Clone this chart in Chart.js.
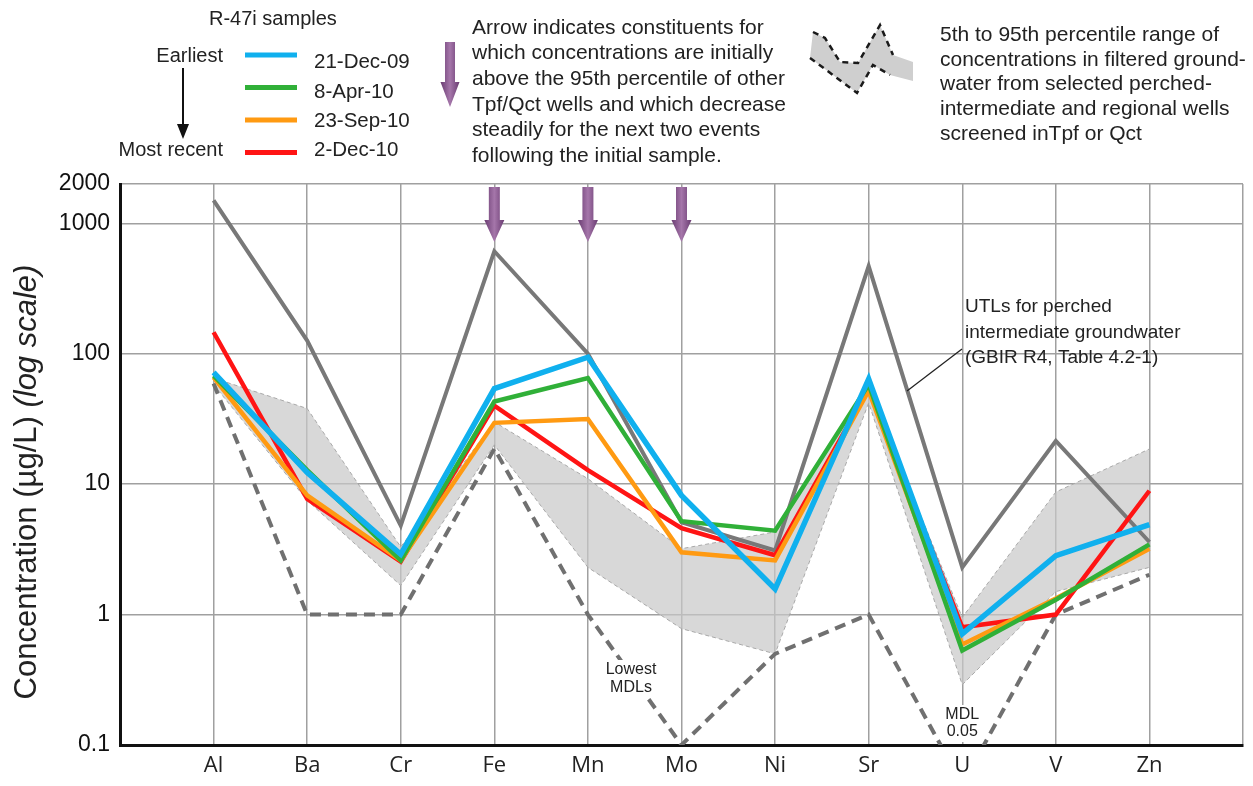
<!DOCTYPE html>
<html>
<head>
<meta charset="utf-8">
<title>R-47i metals</title>
<script src="https://cdn.jsdelivr.net/npm/chart.js@4.4.1/dist/chart.umd.min.js"></script>
<style>
  html, body { margin: 0; padding: 0; background: #fff; }
</style>
</head>
<body>
<canvas id="chart" width="1253" height="786"></canvas>
<script>
// constituents along the x axis
const elements = ['Al', 'Ba', 'Cr', 'Fe', 'Mn', 'Mo', 'Ni', 'Sr', 'U', 'V', 'Zn'];

// R-47i sampling events (ug/L)
const dec09 = [72, 12.3, 2.9, 54, 94, 8.2, 1.57, 64, 0.71, 2.83, 4.9];
const apr10 = [68, 12.8, 2.6, 43, 65, 5.2, 4.4, 58, 0.53, 1.3, 3.45];
const sep10 = [66, 8.2, 2.6, 29.5, 31.6, 3.0, 2.6, 52, 0.59, 1.33, 3.2];
const dec10 = [146, 7.7, 2.55, 40, 12.8, 4.6, 2.85, 54, 0.8, 1.0, 8.9];

// UTLs for perched intermediate groundwater
const utl = [1500, 126, 4.8, 610, 100, 5.1, 3.1, 470, 2.3, 21.5, 3.6];
// lowest MDLs (U is 0.05, under the axis)
const lowestMdl = [59, 1, 1, 18.7, 1, 0.1, 0.5, 1, 0.05, 1, 2.02];
// 5th - 95th percentile band, Tpf/Qct wells
const pct5 = [58, 7.5, 1.67, 20, 2.3, 0.78, 0.5, 42, 0.29, 1.5, 2.3];
const pct95 = [65, 38, 3.3, 30, 11, 3.2, 4.3, 55, 0.95, 8.7, 18.6];

const yTicks = [0.1, 1, 10, 100, 1000, 2000];
const arrowAt = ['Fe', 'Mn', 'Mo'];

const sampleColors = ['#10b0ee', '#30b038', '#ff9a12', '#ff1414'];
const sampleNames = ['21-Dec-09', '8-Apr-10', '23-Sep-10', '2-Dec-10'];

const SANS = '"Liberation Sans", Arial, sans-serif';
const gridGray = '#a0a0a0';

function pts(arr) {
    return arr.map((v, i) => ({x: i + 1, y: v}));
}

function line(label, arr, color, width, extra) {
    return Object.assign({
        label: label,
        data: pts(arr),
        borderColor: color,
        borderWidth: width,
        pointRadius: 0,
        tension: 0,
        fill: false
    }, extra || {});
}

function purpleArrow(ctx, cx, top, headTop, tip, shaftHalf, headHalf) {
    const g = ctx.createLinearGradient(cx - headHalf, 0, cx + headHalf, 0);
    g.addColorStop(0, '#6a3c72');
    g.addColorStop(0.5, '#a576aa');
    g.addColorStop(1, '#6a3c72');
    ctx.fillStyle = g;
    ctx.beginPath();
    ctx.moveTo(cx - shaftHalf, top);
    ctx.lineTo(cx + shaftHalf, top);
    ctx.lineTo(cx + shaftHalf, headTop);
    ctx.lineTo(cx + headHalf, headTop);
    ctx.lineTo(cx, tip);
    ctx.lineTo(cx - headHalf, headTop);
    ctx.lineTo(cx - shaftHalf, headTop);
    ctx.closePath();
    ctx.fill();
}

function boxedText(ctx, lines, cx, y0, step, size) {
    ctx.font = size + 'px ' + SANS;
    let w = 0;
    lines.forEach(t => { w = Math.max(w, ctx.measureText(t).width); });
    ctx.fillStyle = '#fff';
    ctx.fillRect(cx - w / 2 - 3, y0 - size / 2 - 2, w + 6, step * (lines.length - 1) + size + 4);
    ctx.fillStyle = '#222';
    ctx.textAlign = 'center';
    ctx.textBaseline = 'middle';
    lines.forEach((t, i) => ctx.fillText(t, cx, y0 + i * step));
}

const decor = {
    id: 'decor',
    afterDatasetsDraw(chart) {
        const ctx = chart.ctx;
        const xs = chart.scales.x;
        const area = chart.chartArea;
        ctx.save();

        // decreasing-trend arrows
        arrowAt.forEach(name => {
            const cx = xs.getPixelForValue(elements.indexOf(name) + 1);
            purpleArrow(ctx, cx, area.top + 3, area.top + 36, area.top + 58, 5.5, 10);
        });

        // UTL callout
        ctx.strokeStyle = '#222';
        ctx.lineWidth = 1.3;
        ctx.beginPath();
        ctx.moveTo(907, 391);
        ctx.lineTo(962, 349);
        ctx.stroke();
        ctx.fillStyle = '#222';
        ctx.font = '19px ' + SANS;
        ctx.textAlign = 'left';
        ctx.textBaseline = 'middle';
        ['UTLs for perched', 'intermediate groundwater', '(GBIR R4, Table 4.2-1)']
            .forEach((t, i) => ctx.fillText(t, 965, 307 + i * 25.5));

        boxedText(ctx, ['Lowest', 'MDLs'], 631, 670, 18, 16);
        boxedText(ctx, ['MDL', '0.05'], xs.getPixelForValue(9), 715, 17, 16);
        ctx.restore();
    },
    afterDraw(chart) {
        const ctx = chart.ctx;
        ctx.save();
        ctx.fillStyle = '#222';
        ctx.textBaseline = 'middle';

        // sample legend
        ctx.font = '20px ' + SANS;
        ctx.textAlign = 'left';
        ctx.fillText('R-47i samples', 209, 19);
        ctx.textAlign = 'right';
        ctx.fillText('Earliest', 223, 56);
        ctx.fillText('Most recent', 223, 150);
        ctx.strokeStyle = '#111';
        ctx.lineWidth = 2;
        ctx.beginPath();
        ctx.moveTo(183, 68);
        ctx.lineTo(183, 128);
        ctx.stroke();
        ctx.fillStyle = '#111';
        ctx.beginPath();
        ctx.moveTo(177, 124);
        ctx.lineTo(189, 124);
        ctx.lineTo(183, 139);
        ctx.closePath();
        ctx.fill();

        const lineY = [55, 87.5, 120, 152.5];
        const textY = [62, 92, 121, 150];
        ctx.lineWidth = 5;
        ctx.textAlign = 'left';
        ctx.font = '20.5px ' + SANS;
        sampleNames.forEach((name, i) => {
            ctx.strokeStyle = sampleColors[i];
            ctx.beginPath();
            ctx.moveTo(245, lineY[i]);
            ctx.lineTo(297, lineY[i]);
            ctx.stroke();
            ctx.fillStyle = '#222';
            ctx.fillText(name, 314, textY[i]);
        });

        // arrow note
        purpleArrow(ctx, 450, 42, 82, 107, 5, 9.5);
        ctx.fillStyle = '#222';
        ctx.font = '21px ' + SANS;
        ['Arrow indicates constituents for',
         'which concentrations are initially',
         'above the 95th percentile of other',
         'Tpf/Qct wells and which decrease',
         'steadily for the next two events',
         'following the initial sample.']
            .forEach((t, i) => ctx.fillText(t, 472, 28 + i * 25.6));

        // percentile band swatch
        const up = [[813, 32], [825, 38], [840, 62], [858, 63], [880, 25], [893, 55], [913, 62]];
        const lo = [[810, 58], [833, 75], [857, 93], [873, 65], [890, 75], [913, 81]];
        ctx.fillStyle = '#cfcfcf';
        ctx.beginPath();
        up.forEach((p, i) => i ? ctx.lineTo(p[0], p[1]) : ctx.moveTo(p[0], p[1]));
        lo.slice().reverse().forEach(p => ctx.lineTo(p[0], p[1]));
        ctx.closePath();
        ctx.fill();
        ctx.strokeStyle = '#1a1a1a';
        ctx.lineWidth = 2.5;
        ctx.setLineDash([6, 5]);
        [up.slice(0, 6), lo.slice(0, 5)].forEach(path => {
            ctx.beginPath();
            path.forEach((p, i) => i ? ctx.lineTo(p[0], p[1]) : ctx.moveTo(p[0], p[1]));
            ctx.stroke();
        });
        ctx.setLineDash([]);
        ctx.fillStyle = '#222';
        ctx.font = '21px ' + SANS;
        ['5th to 95th percentile range of',
         'concentrations in filtered ground-',
         'water from selected perched-',
         'intermediate and regional wells',
         'screened inTpf or Qct']
            .forEach((t, i) => ctx.fillText(t, 940, 35 + i * 24.8));

        // y axis title, second half in italics
        const a = 'Concentration (\u00b5g/L) ';
        const b = '(log scale)';
        const size = 31;
        ctx.font = size + 'px ' + SANS;
        const wa = ctx.measureText(a).width;
        ctx.font = 'italic ' + size + 'px ' + SANS;
        const wb = ctx.measureText(b).width;
        ctx.translate(27, 482);
        ctx.rotate(-Math.PI / 2);
        ctx.textAlign = 'left';
        ctx.fillStyle = '#222';
        ctx.font = size + 'px ' + SANS;
        ctx.fillText(a, -(wa + wb) / 2, 0);
        ctx.font = 'italic ' + size + 'px ' + SANS;
        ctx.fillText(b, -(wa + wb) / 2 + wa, 0);
        ctx.restore();
    }
};

new Chart(document.getElementById('chart'), {
    type: 'line',
    data: {
        datasets: [
            line(sampleNames[0], dec09, sampleColors[0], 5.5),
            line(sampleNames[1], apr10, sampleColors[1], 4.5),
            line(sampleNames[2], sep10, sampleColors[2], 4.5),
            line(sampleNames[3], dec10, sampleColors[3], 4.5),
            line('UTL', utl, '#787878', 4),
            line('Lowest MDLs', lowestMdl, '#707070', 4, {borderDash: [11, 7], clip: 0}),
            line('5th percentile', pct5, '#a9a9a9', 1, {borderDash: [4, 3]}),
            line('95th percentile', pct95, '#a9a9a9', 1, {
                borderDash: [4, 3],
                fill: '-1',
                backgroundColor: 'rgba(200, 200, 200, 0.7)'
            })
        ]
    },
    options: {
        responsive: false,
        animation: false,
        layout: {padding: {top: 184, right: 10, bottom: 0, left: 0}},
        plugins: {
            legend: {display: false},
            tooltip: {enabled: false}
        },
        scales: {
            x: {
                type: 'linear',
                min: 0,
                max: 12,
                afterBuildTicks: s => {
                    s.ticks = [];
                    for (let i = 0; i <= 12; i++) s.ticks.push({value: i});
                },
                afterFit: s => { s.height = 41; },
                ticks: {
                    autoSkip: false,
                    maxRotation: 0,
                    padding: 8,
                    color: '#222',
                    font: {family: '"Open Sans", sans-serif', size: 22},
                    callback: v => elements[v - 1] || ''
                },
                grid: {
                    drawTicks: false,
                    lineWidth: 1.5,
                    color: c => c.tick && c.tick.value === 0 ? 'rgba(0,0,0,0)' : gridGray
                },
                border: {color: '#111', width: 3}
            },
            y: {
                type: 'logarithmic',
                min: 0.1,
                max: 2000,
                afterBuildTicks: s => { s.ticks = yTicks.map(v => ({value: v})); },
                afterFit: s => { s.width = 120; },
                ticks: {
                    padding: 10,
                    color: '#111',
                    font: {family: SANS, size: 23},
                    callback: v => String(v)
                },
                grid: {
                    drawTicks: false,
                    lineWidth: 1.5,
                    color: c => c.tick && c.tick.value === 0.1 ? 'rgba(0,0,0,0)' : gridGray
                },
                border: {color: '#111', width: 3}
            }
        }
    },
    plugins: [decor]
});
</script>
</body>
</html>
